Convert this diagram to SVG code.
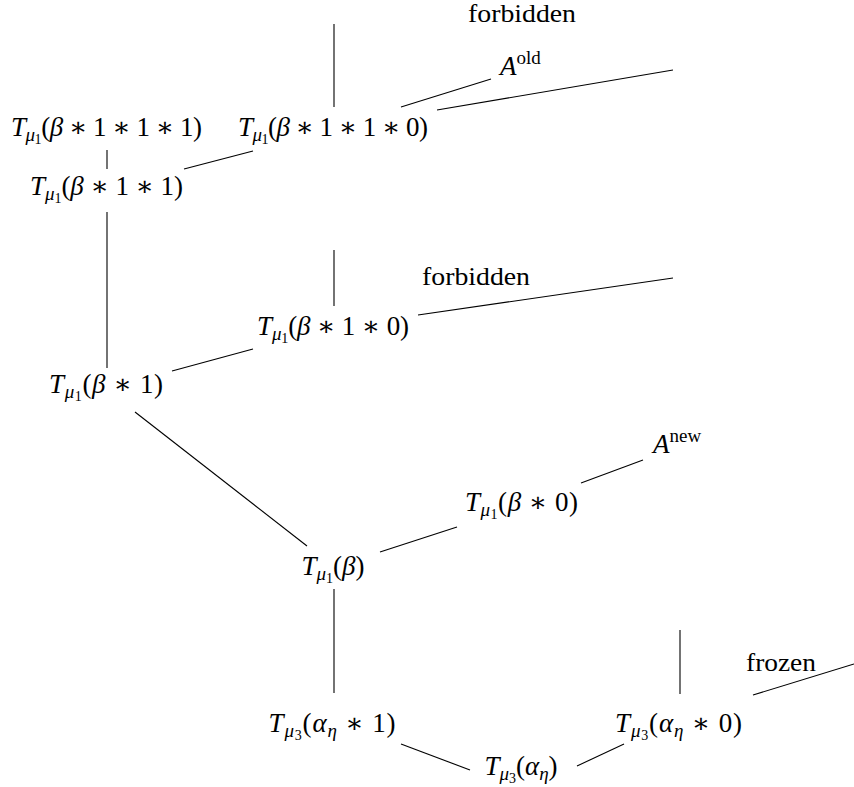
<svg xmlns="http://www.w3.org/2000/svg" width="854" height="787" viewBox="0 0 854 787">
<style>
.bg{fill:#fff}
.e{stroke:#000;stroke-width:1.1;fill:none;stroke-linecap:butt}
.m{font-family:"Liberation Serif","DejaVu Serif",serif;font-size:27px;fill:#000}
.t{font-family:"Liberation Serif","DejaVu Serif",serif;font-size:26px;fill:#000}
.i{font-style:italic}
.s{font-size:19px}
.ss{font-size:14px}
</style>
<rect class="bg" width="854" height="787"/>
<g id="connectors">
<line class="e" x1="334" y1="24" x2="334" y2="107"/>
<line class="e" x1="401" y1="107" x2="491" y2="79"/>
<line class="e" x1="437" y1="110" x2="673" y2="70"/>
<line class="e" x1="107" y1="150" x2="107" y2="169"/>
<line class="e" x1="184" y1="169" x2="253" y2="151"/>
<line class="e" x1="107" y1="212" x2="107" y2="368"/>
<line class="e" x1="334" y1="250" x2="334" y2="306"/>
<line class="e" x1="418" y1="315" x2="673" y2="278"/>
<line class="e" x1="172" y1="371" x2="253" y2="349"/>
<line class="e" x1="135" y1="412" x2="307" y2="546"/>
<line class="e" x1="380" y1="552" x2="457" y2="527"/>
<line class="e" x1="581" y1="483" x2="643" y2="460"/>
<line class="e" x1="334" y1="589" x2="334" y2="693"/>
<line class="e" x1="401" y1="744" x2="470" y2="770"/>
<line class="e" x1="577" y1="766" x2="624" y2="744"/>
<line class="e" x1="680" y1="630" x2="680" y2="694"/>
<line class="e" x1="753" y1="695" x2="854" y2="664"/>
</g>
<g id="n-b111">
<text class="m" x="106.5" y="136" text-anchor="middle" textLength="191" lengthAdjust="spacing"><tspan class="i">T</tspan><tspan class="s i" dy="5">μ</tspan><tspan class="ss" dy="3">1</tspan><tspan dy="-8">(</tspan><tspan class="i">β</tspan> ∗ 1 ∗ 1 ∗ 1)</text>
</g>
<g id="n-b110">
<text class="m" x="333" y="136" text-anchor="middle" textLength="190" lengthAdjust="spacing"><tspan class="i">T</tspan><tspan class="s i" dy="5">μ</tspan><tspan class="ss" dy="3">1</tspan><tspan dy="-8">(</tspan><tspan class="i">β</tspan> ∗ 1 ∗ 1 ∗ 0)</text>
</g>
<g id="n-b11">
<text class="m" x="106.5" y="195" text-anchor="middle" textLength="153" lengthAdjust="spacing"><tspan class="i">T</tspan><tspan class="s i" dy="5">μ</tspan><tspan class="ss" dy="3">1</tspan><tspan dy="-8">(</tspan><tspan class="i">β</tspan> ∗ 1 ∗ 1)</text>
</g>
<g id="n-b10">
<text class="m" x="333" y="335" text-anchor="middle" textLength="152" lengthAdjust="spacing"><tspan class="i">T</tspan><tspan class="s i" dy="5">μ</tspan><tspan class="ss" dy="3">1</tspan><tspan dy="-8">(</tspan><tspan class="i">β</tspan> ∗ 1 ∗ 0)</text>
</g>
<g id="n-b1">
<text class="m" x="106" y="393" text-anchor="middle" textLength="114" lengthAdjust="spacing"><tspan class="i">T</tspan><tspan class="s i" dy="5">μ</tspan><tspan class="ss" dy="3">1</tspan><tspan dy="-8">(</tspan><tspan class="i">β</tspan> ∗ 1)</text>
</g>
<g id="n-b">
<text class="m" x="333" y="575" text-anchor="middle" font-size="28"><tspan class="i">T</tspan><tspan class="s i" dy="5">μ</tspan><tspan class="ss" dy="3">1</tspan><tspan dy="-8">(</tspan><tspan class="i">β</tspan>)</text>
</g>
<g id="n-b0">
<text class="m" x="521.5" y="511" text-anchor="middle" textLength="113" lengthAdjust="spacing"><tspan class="i">T</tspan><tspan class="s i" dy="5">μ</tspan><tspan class="ss" dy="3">1</tspan><tspan dy="-8">(</tspan><tspan class="i">β</tspan> ∗ 0)</text>
</g>
<g id="n-a1">
<text class="m" x="332" y="732" text-anchor="middle" textLength="127" lengthAdjust="spacing"><tspan class="i">T</tspan><tspan class="s i" dy="5">μ</tspan><tspan class="ss" dy="3">3</tspan><tspan dy="-8">(</tspan><tspan class="i">α</tspan><tspan class="s i" dy="5">η</tspan><tspan dy="-5"> ∗ 1)</tspan></text>
</g>
<g id="n-a0">
<text class="m" x="678.5" y="732" text-anchor="middle" textLength="127" lengthAdjust="spacing"><tspan class="i">T</tspan><tspan class="s i" dy="5">μ</tspan><tspan class="ss" dy="3">3</tspan><tspan dy="-8">(</tspan><tspan class="i">α</tspan><tspan class="s i" dy="5">η</tspan><tspan dy="-5"> ∗ 0)</tspan></text>
</g>
<g id="n-a">
<text class="m" x="521" y="775" text-anchor="middle"><tspan class="i">T</tspan><tspan class="s i" dy="5">μ</tspan><tspan class="ss" dy="3">3</tspan><tspan dy="-8">(</tspan><tspan class="i">α</tspan><tspan class="s i" dy="5">η</tspan><tspan dy="-5">)</tspan></text>
</g>
<g id="l-forbidden1">
<text class="t" x="468" y="22" textLength="108" lengthAdjust="spacingAndGlyphs">forbidden</text>
</g>
<g id="l-forbidden2">
<text class="t" x="422" y="285" textLength="108" lengthAdjust="spacingAndGlyphs">forbidden</text>
</g>
<g id="l-frozen">
<text class="t" x="746" y="671" textLength="70" lengthAdjust="spacingAndGlyphs">frozen</text>
</g>
<g id="l-aold">
<text class="m" x="500" y="75"><tspan class="i">A</tspan><tspan class="s" dy="-11">old</tspan></text>
</g>
<g id="l-anew">
<text class="m" x="653" y="453"><tspan class="i">A</tspan><tspan class="s" dy="-11">new</tspan></text>
</g>
</svg>
